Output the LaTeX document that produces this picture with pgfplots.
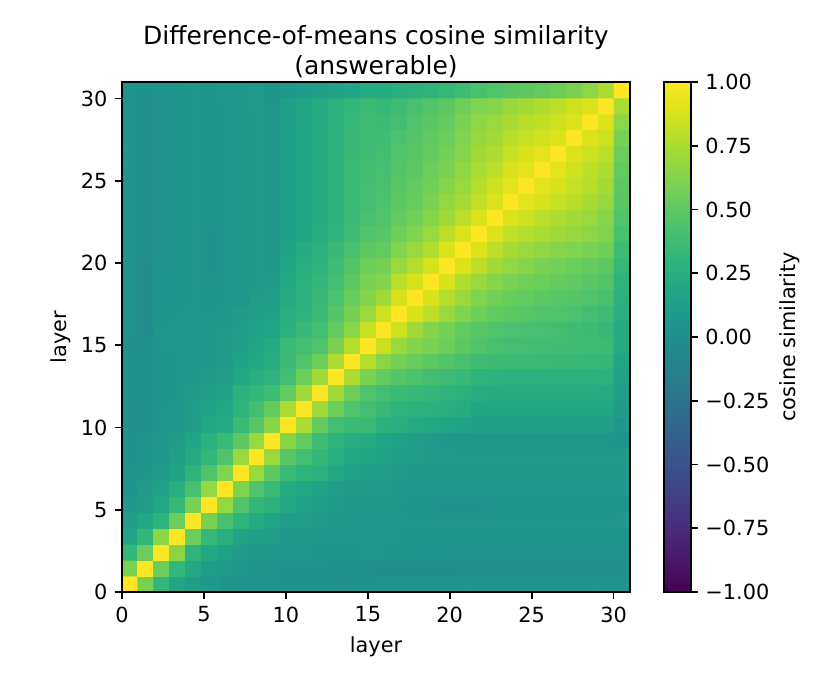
\documentclass[border=0pt]{standalone}
\usepackage{fontspec}
\setmainfont{DejaVu Sans}
\usepackage{pgfplots}
\usepackage{pgfplotstable}
\pgfplotsset{compat=1.18}
% 32x32 cosine-similarity matrix, row = y layer (0..31), col = x layer (0..31)
\pgfplotstableread[row sep=\\]{
v\\
1\\ 0.60\\ 0.32\\ 0.18\\ 0.12\\ 0.08\\ 0.05\\ 0.04\\ 0.03\\ 0.03\\ 0.02\\ 0.02\\ 0.02\\ 0.02\\ 0.02\\ 0.02\\ 0.04\\ 0.04\\ 0.04\\ 0.04\\ 0.04\\ 0.04\\ 0.04\\ 0.04\\ 0.04\\ 0.04\\ 0.04\\ 0.04\\ 0.04\\ 0.04\\ 0.04\\ 0.04\\
0.60\\ 1\\ 0.55\\ 0.32\\ 0.20\\ 0.12\\ 0.10\\ 0.07\\ 0.05\\ 0.04\\ 0.03\\ 0.03\\ 0.03\\ 0.02\\ 0.02\\ 0.02\\ 0.00\\ 0.00\\ 0.00\\ 0.00\\ 0.00\\ 0.01\\ 0.01\\ 0.01\\ 0.01\\ 0.01\\ 0.01\\ 0.01\\ 0.01\\ 0.01\\ 0.01\\ 0.02\\
0.32\\ 0.55\\ 1\\ 0.65\\ 0.30\\ 0.20\\ 0.15\\ 0.10\\ 0.08\\ 0.08\\ 0.06\\ 0.06\\ 0.05\\ 0.05\\ 0.05\\ 0.06\\ 0.06\\ 0.05\\ 0.05\\ 0.05\\ 0.05\\ 0.04\\ 0.04\\ 0.04\\ 0.04\\ 0.04\\ 0.04\\ 0.04\\ 0.04\\ 0.04\\ 0.04\\ 0.04\\
0.18\\ 0.32\\ 0.65\\ 1\\ 0.55\\ 0.33\\ 0.25\\ 0.17\\ 0.14\\ 0.12\\ 0.08\\ 0.08\\ 0.07\\ 0.06\\ 0.06\\ 0.07\\ 0.07\\ 0.06\\ 0.05\\ 0.05\\ 0.05\\ 0.05\\ 0.05\\ 0.05\\ 0.05\\ 0.05\\ 0.05\\ 0.05\\ 0.05\\ 0.05\\ 0.05\\ 0.05\\
0.12\\ 0.20\\ 0.30\\ 0.55\\ 1\\ 0.60\\ 0.42\\ 0.30\\ 0.22\\ 0.18\\ 0.12\\ 0.12\\ 0.10\\ 0.08\\ 0.08\\ 0.08\\ 0.07\\ 0.07\\ 0.06\\ 0.06\\ 0.06\\ 0.06\\ 0.06\\ 0.06\\ 0.06\\ 0.06\\ 0.06\\ 0.06\\ 0.06\\ 0.06\\ 0.06\\ 0.06\\
0.08\\ 0.12\\ 0.20\\ 0.33\\ 0.60\\ 1\\ 0.68\\ 0.45\\ 0.32\\ 0.27\\ 0.20\\ 0.17\\ 0.14\\ 0.10\\ 0.08\\ 0.08\\ 0.08\\ 0.07\\ 0.05\\ 0.05\\ 0.03\\ 0.03\\ 0.03\\ 0.05\\ 0.05\\ 0.05\\ 0.05\\ 0.05\\ 0.05\\ 0.05\\ 0.05\\ 0.05\\
0.05\\ 0.10\\ 0.15\\ 0.25\\ 0.42\\ 0.68\\ 1\\ 0.62\\ 0.45\\ 0.35\\ 0.22\\ 0.20\\ 0.16\\ 0.12\\ 0.10\\ 0.10\\ 0.09\\ 0.08\\ 0.06\\ 0.06\\ 0.06\\ 0.06\\ 0.06\\ 0.06\\ 0.06\\ 0.06\\ 0.06\\ 0.06\\ 0.06\\ 0.06\\ 0.06\\ 0.06\\
0.04\\ 0.07\\ 0.10\\ 0.17\\ 0.30\\ 0.45\\ 0.62\\ 1\\ 0.70\\ 0.50\\ 0.35\\ 0.30\\ 0.27\\ 0.20\\ 0.16\\ 0.14\\ 0.12\\ 0.10\\ 0.07\\ 0.07\\ 0.07\\ 0.07\\ 0.07\\ 0.07\\ 0.07\\ 0.07\\ 0.07\\ 0.07\\ 0.07\\ 0.07\\ 0.07\\ 0.07\\
0.03\\ 0.05\\ 0.08\\ 0.14\\ 0.22\\ 0.32\\ 0.45\\ 0.70\\ 1\\ 0.70\\ 0.48\\ 0.40\\ 0.32\\ 0.25\\ 0.20\\ 0.18\\ 0.16\\ 0.14\\ 0.12\\ 0.09\\ 0.09\\ 0.09\\ 0.09\\ 0.09\\ 0.09\\ 0.09\\ 0.09\\ 0.09\\ 0.09\\ 0.09\\ 0.09\\ 0.09\\
0.03\\ 0.04\\ 0.08\\ 0.12\\ 0.18\\ 0.27\\ 0.35\\ 0.50\\ 0.70\\ 1\\ 0.64\\ 0.52\\ 0.38\\ 0.30\\ 0.24\\ 0.22\\ 0.18\\ 0.15\\ 0.12\\ 0.10\\ 0.08\\ 0.07\\ 0.07\\ 0.07\\ 0.07\\ 0.07\\ 0.07\\ 0.07\\ 0.07\\ 0.07\\ 0.07\\ 0.05\\
0.02\\ 0.03\\ 0.06\\ 0.08\\ 0.12\\ 0.20\\ 0.22\\ 0.35\\ 0.48\\ 0.64\\ 1\\ 0.75\\ 0.52\\ 0.40\\ 0.36\\ 0.35\\ 0.28\\ 0.25\\ 0.22\\ 0.20\\ 0.18\\ 0.16\\ 0.14\\ 0.14\\ 0.14\\ 0.14\\ 0.14\\ 0.14\\ 0.14\\ 0.14\\ 0.14\\ 0.08\\
0.02\\ 0.03\\ 0.06\\ 0.08\\ 0.12\\ 0.17\\ 0.20\\ 0.30\\ 0.40\\ 0.52\\ 0.75\\ 1\\ 0.72\\ 0.55\\ 0.45\\ 0.40\\ 0.34\\ 0.30\\ 0.28\\ 0.27\\ 0.25\\ 0.23\\ 0.19\\ 0.19\\ 0.19\\ 0.19\\ 0.19\\ 0.19\\ 0.19\\ 0.19\\ 0.19\\ 0.10\\
0.02\\ 0.03\\ 0.05\\ 0.07\\ 0.10\\ 0.14\\ 0.16\\ 0.27\\ 0.32\\ 0.38\\ 0.52\\ 0.72\\ 1\\ 0.72\\ 0.55\\ 0.45\\ 0.40\\ 0.36\\ 0.34\\ 0.32\\ 0.30\\ 0.28\\ 0.24\\ 0.23\\ 0.23\\ 0.23\\ 0.23\\ 0.23\\ 0.23\\ 0.23\\ 0.22\\ 0.12\\
0.02\\ 0.02\\ 0.05\\ 0.06\\ 0.08\\ 0.10\\ 0.12\\ 0.20\\ 0.25\\ 0.30\\ 0.40\\ 0.55\\ 0.72\\ 1\\ 0.76\\ 0.60\\ 0.52\\ 0.47\\ 0.43\\ 0.40\\ 0.37\\ 0.34\\ 0.30\\ 0.29\\ 0.28\\ 0.28\\ 0.28\\ 0.28\\ 0.28\\ 0.28\\ 0.27\\ 0.15\\
0.02\\ 0.02\\ 0.05\\ 0.06\\ 0.08\\ 0.08\\ 0.10\\ 0.16\\ 0.20\\ 0.24\\ 0.36\\ 0.45\\ 0.55\\ 0.76\\ 1\\ 0.78\\ 0.65\\ 0.58\\ 0.54\\ 0.50\\ 0.46\\ 0.42\\ 0.38\\ 0.36\\ 0.35\\ 0.35\\ 0.35\\ 0.34\\ 0.34\\ 0.33\\ 0.32\\ 0.18\\
0.02\\ 0.02\\ 0.06\\ 0.07\\ 0.08\\ 0.08\\ 0.10\\ 0.14\\ 0.18\\ 0.22\\ 0.35\\ 0.40\\ 0.45\\ 0.60\\ 0.78\\ 1\\ 0.84\\ 0.70\\ 0.63\\ 0.60\\ 0.55\\ 0.50\\ 0.45\\ 0.42\\ 0.40\\ 0.40\\ 0.39\\ 0.38\\ 0.38\\ 0.37\\ 0.36\\ 0.22\\
0.04\\ 0.00\\ 0.06\\ 0.07\\ 0.07\\ 0.08\\ 0.09\\ 0.12\\ 0.16\\ 0.18\\ 0.28\\ 0.34\\ 0.40\\ 0.52\\ 0.65\\ 0.84\\ 1\\ 0.85\\ 0.72\\ 0.63\\ 0.58\\ 0.52\\ 0.48\\ 0.45\\ 0.43\\ 0.42\\ 0.41\\ 0.40\\ 0.38\\ 0.36\\ 0.33\\ 0.22\\
0.04\\ 0.00\\ 0.05\\ 0.06\\ 0.07\\ 0.07\\ 0.08\\ 0.10\\ 0.14\\ 0.15\\ 0.25\\ 0.30\\ 0.36\\ 0.47\\ 0.58\\ 0.70\\ 0.85\\ 1\\ 0.88\\ 0.80\\ 0.70\\ 0.62\\ 0.56\\ 0.52\\ 0.50\\ 0.48\\ 0.46\\ 0.45\\ 0.43\\ 0.40\\ 0.37\\ 0.25\\
0.04\\ 0.00\\ 0.05\\ 0.05\\ 0.06\\ 0.05\\ 0.06\\ 0.07\\ 0.12\\ 0.12\\ 0.22\\ 0.28\\ 0.34\\ 0.43\\ 0.54\\ 0.63\\ 0.72\\ 0.88\\ 1\\ 0.88\\ 0.78\\ 0.70\\ 0.62\\ 0.57\\ 0.54\\ 0.52\\ 0.50\\ 0.48\\ 0.47\\ 0.45\\ 0.42\\ 0.28\\
0.04\\ 0.00\\ 0.05\\ 0.05\\ 0.06\\ 0.05\\ 0.06\\ 0.07\\ 0.09\\ 0.10\\ 0.20\\ 0.27\\ 0.32\\ 0.40\\ 0.50\\ 0.60\\ 0.63\\ 0.80\\ 0.88\\ 1\\ 0.88\\ 0.77\\ 0.70\\ 0.64\\ 0.60\\ 0.57\\ 0.55\\ 0.53\\ 0.51\\ 0.49\\ 0.46\\ 0.30\\
0.04\\ 0.00\\ 0.05\\ 0.05\\ 0.06\\ 0.03\\ 0.06\\ 0.07\\ 0.09\\ 0.08\\ 0.18\\ 0.25\\ 0.30\\ 0.37\\ 0.46\\ 0.55\\ 0.58\\ 0.70\\ 0.78\\ 0.88\\ 1\\ 0.90\\ 0.80\\ 0.72\\ 0.68\\ 0.64\\ 0.60\\ 0.58\\ 0.55\\ 0.53\\ 0.50\\ 0.33\\
0.04\\ 0.01\\ 0.04\\ 0.05\\ 0.06\\ 0.03\\ 0.06\\ 0.07\\ 0.09\\ 0.07\\ 0.16\\ 0.23\\ 0.28\\ 0.34\\ 0.42\\ 0.50\\ 0.52\\ 0.62\\ 0.70\\ 0.77\\ 0.90\\ 1\\ 0.90\\ 0.80\\ 0.74\\ 0.70\\ 0.67\\ 0.64\\ 0.62\\ 0.60\\ 0.56\\ 0.38\\
0.04\\ 0.01\\ 0.04\\ 0.05\\ 0.06\\ 0.03\\ 0.06\\ 0.07\\ 0.09\\ 0.07\\ 0.14\\ 0.19\\ 0.24\\ 0.30\\ 0.38\\ 0.45\\ 0.48\\ 0.56\\ 0.62\\ 0.70\\ 0.80\\ 0.90\\ 1\\ 0.90\\ 0.82\\ 0.78\\ 0.75\\ 0.72\\ 0.69\\ 0.66\\ 0.62\\ 0.42\\
0.04\\ 0.01\\ 0.04\\ 0.05\\ 0.06\\ 0.05\\ 0.06\\ 0.07\\ 0.09\\ 0.07\\ 0.14\\ 0.19\\ 0.23\\ 0.29\\ 0.36\\ 0.42\\ 0.45\\ 0.52\\ 0.57\\ 0.64\\ 0.72\\ 0.80\\ 0.90\\ 1\\ 0.90\\ 0.85\\ 0.80\\ 0.76\\ 0.73\\ 0.70\\ 0.64\\ 0.45\\
0.04\\ 0.01\\ 0.04\\ 0.05\\ 0.06\\ 0.05\\ 0.06\\ 0.07\\ 0.09\\ 0.07\\ 0.14\\ 0.19\\ 0.23\\ 0.28\\ 0.35\\ 0.40\\ 0.43\\ 0.50\\ 0.54\\ 0.60\\ 0.68\\ 0.74\\ 0.82\\ 0.90\\ 1\\ 0.92\\ 0.88\\ 0.83\\ 0.79\\ 0.74\\ 0.69\\ 0.48\\
0.04\\ 0.01\\ 0.04\\ 0.05\\ 0.06\\ 0.05\\ 0.06\\ 0.07\\ 0.09\\ 0.07\\ 0.14\\ 0.19\\ 0.23\\ 0.28\\ 0.35\\ 0.40\\ 0.42\\ 0.48\\ 0.52\\ 0.57\\ 0.64\\ 0.70\\ 0.78\\ 0.85\\ 0.92\\ 1\\ 0.92\\ 0.88\\ 0.83\\ 0.79\\ 0.73\\ 0.50\\
0.04\\ 0.01\\ 0.04\\ 0.05\\ 0.06\\ 0.05\\ 0.06\\ 0.07\\ 0.09\\ 0.07\\ 0.14\\ 0.19\\ 0.23\\ 0.28\\ 0.35\\ 0.39\\ 0.41\\ 0.46\\ 0.50\\ 0.55\\ 0.60\\ 0.67\\ 0.75\\ 0.80\\ 0.88\\ 0.92\\ 1\\ 0.92\\ 0.86\\ 0.81\\ 0.76\\ 0.52\\
0.04\\ 0.01\\ 0.04\\ 0.05\\ 0.06\\ 0.05\\ 0.06\\ 0.07\\ 0.09\\ 0.07\\ 0.14\\ 0.19\\ 0.23\\ 0.28\\ 0.34\\ 0.38\\ 0.40\\ 0.45\\ 0.48\\ 0.53\\ 0.58\\ 0.64\\ 0.72\\ 0.76\\ 0.83\\ 0.88\\ 0.92\\ 1\\ 0.90\\ 0.85\\ 0.80\\ 0.55\\
0.04\\ 0.01\\ 0.04\\ 0.05\\ 0.06\\ 0.05\\ 0.06\\ 0.07\\ 0.09\\ 0.07\\ 0.14\\ 0.19\\ 0.23\\ 0.28\\ 0.34\\ 0.38\\ 0.38\\ 0.43\\ 0.47\\ 0.51\\ 0.55\\ 0.62\\ 0.69\\ 0.73\\ 0.79\\ 0.83\\ 0.86\\ 0.90\\ 1\\ 0.90\\ 0.85\\ 0.60\\
0.04\\ 0.01\\ 0.04\\ 0.05\\ 0.06\\ 0.05\\ 0.06\\ 0.07\\ 0.09\\ 0.07\\ 0.14\\ 0.19\\ 0.23\\ 0.28\\ 0.33\\ 0.37\\ 0.36\\ 0.40\\ 0.45\\ 0.49\\ 0.53\\ 0.60\\ 0.66\\ 0.70\\ 0.74\\ 0.79\\ 0.81\\ 0.85\\ 0.90\\ 1\\ 0.90\\ 0.66\\
0.04\\ 0.01\\ 0.04\\ 0.05\\ 0.06\\ 0.05\\ 0.06\\ 0.07\\ 0.09\\ 0.07\\ 0.14\\ 0.19\\ 0.22\\ 0.27\\ 0.32\\ 0.36\\ 0.33\\ 0.37\\ 0.42\\ 0.46\\ 0.50\\ 0.56\\ 0.62\\ 0.64\\ 0.69\\ 0.73\\ 0.76\\ 0.80\\ 0.85\\ 0.90\\ 1\\ 0.75\\
0.04\\ 0.02\\ 0.04\\ 0.05\\ 0.06\\ 0.05\\ 0.06\\ 0.07\\ 0.09\\ 0.05\\ 0.08\\ 0.10\\ 0.12\\ 0.15\\ 0.18\\ 0.22\\ 0.22\\ 0.25\\ 0.28\\ 0.30\\ 0.33\\ 0.38\\ 0.42\\ 0.45\\ 0.48\\ 0.50\\ 0.52\\ 0.55\\ 0.60\\ 0.66\\ 0.75\\ 1\\
}\cosdata

\begin{document}
\begin{tikzpicture}
\path[use as bounding box] (0,0) rectangle (396pt,324pt);
\begin{axis}[
  scale only axis,
  width=243.84pt, height=244.8pt,
  at={(58.56pt,39.84pt)}, anchor=south west,
  xmin=0, xmax=31, ymin=0, ymax=31,
  enlargelimits=false,
  axis on top,
  xtick={0,5,...,30}, ytick={0,5,...,30},
  tick align=outside,
  xtick pos=bottom, ytick pos=left,
  major tick length=3.5pt,
  every tick/.style={black, line width=0.8pt},
  axis line style={line width=0.8pt},
  /pgf/number format/assume math mode=true,
  ticklabel style={font=\fontsize{10}{12}\selectfont},
  xlabel={layer}, ylabel={layer},
  label style={font=\fontsize{10}{12}\selectfont},
  ylabel style={yshift=-2pt},
  title={Difference-of-means cosine similarity\\(answerable)},
  title style={align=center, font=\fontsize{12}{14.4}\selectfont, yshift=-7.5pt},
  colormap/viridis,
  point meta min=-1, point meta max=1,
  colorbar,
  colorbar style={
    scale only axis,
    at={(parent axis.north east)}, anchor=north west, xshift=7.7pt,
    width=12.96pt, height=244.8pt,
    ytick={-1,-0.75,-0.5,-0.25,0,0.25,0.5,0.75,1},
    yticklabels={−1.00,−0.75,−0.50,−0.25,0.00,0.25,0.50,0.75,1.00},
    ytick pos=right, yticklabel pos=right,
    tick align=outside,
    major tick length=3.5pt,
    every tick/.style={black, line width=0.8pt},
    axis line style={line width=0.8pt},
    ticklabel style={font=\fontsize{10}{12}\selectfont},
    ylabel={cosine similarity},
    ylabel style={font=\fontsize{10}{12}\selectfont, yshift=2pt},
  },
]
\addplot[matrix plot*, mesh/cols=32, point meta=explicit]
  table[x index=0, y index=0,
        x expr={(mod(\coordindex,32)+0.5)*0.96875},
        y expr={(floor((\coordindex+0.5)/32)+0.5)*0.96875},
        meta=v] {\cosdata};
\end{axis}
\end{tikzpicture}
\end{document}
